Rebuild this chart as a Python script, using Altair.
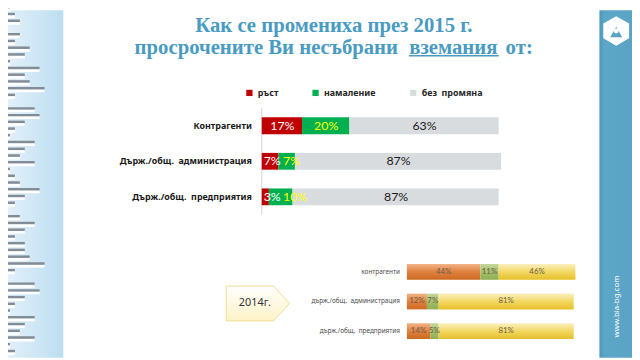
import altair as alt
import pandas as pd

NB = "\u00a0"

# ---------------- data ----------------
categories = ["Контрагенти", f"Държ./общ.{NB}{NB}администрация", f"Държ./общ.{NB}{NB}предприятия"]
series = ["ръст", "намаление", f"без{NB}{NB}промяна"]
growth = [17, 7, 3]
decline = [20, 7, 10]
nochange = [63, 87, 87]

categories_2014 = ["контрагенти", f"държ./общ.{NB}{NB}администрация", f"държ./общ.{NB}{NB}предприятия"]
growth_2014 = [44, 12, 14]
decline_2014 = [11, 7, 5]
nochange_2014 = [46, 81, 81]

title_line1 = "Как се промениха през 2015 г."
title_line2 = ["просрочените Ви несъбрани", "вземания", "от:"]
year_label = "2014г."
site = "www.bia-bg.com"

# decorative lines in the left panel (lengths, px)
deco_lengths = [10, 15, 20, 5, 20, 15, 30, 25, 10, 40, 25, 30, 45, 15, 5, 35, 40, 25, 15,
                10, 35, 25, 20, 35, 10, 15, 20, 40, 25, 15, 5, 20, 35, 25, 15, 25, 25, 30,
                45, 15, 5, 35, 40, 25, 15, 10, 35, 25, 20, 35, 10, 15]

RED, GREEN, GREY = "#c00000", "#00b050", "#d9dcdf"
TITLE_BLUE = "#4a9bc1"

PX_PER_PCT15 = 2.4  # 240 px for 100 %


def stack(cats, vals_by_series, names, px_per_pct=None, fs=12):
    rows = []
    for i, c in enumerate(cats):
        start = 0
        cursor = 2 / px_per_pct if px_per_pct else 0  # in percent units
        for s, vals in zip(names, vals_by_series):
            v = vals[i]
            label = f"{v}%"
            mid = start + v / 2
            row = dict(cat=c, series=s, value=v, start=start, end=start + v, mid=mid, label=label)
            if px_per_pct:
                w = (len(str(v)) * 0.58 + 0.8) * fs / px_per_pct
                left = max(mid - w / 2, cursor)
                row["lpos"] = left
                cursor = left + w + 3 / px_per_pct
            rows.append(row)
            start += v
    return pd.DataFrame(rows)


df15 = stack(categories, [growth, decline, nochange], series, PX_PER_PCT15)
df15["tcolor"] = df15["series"].map({series[0]: "white", series[1]: "#ffff00", series[2]: "#1a1a1a"})
df14 = stack(categories_2014, [growth_2014, decline_2014, nochange_2014], ["g", "d", "n"])

# ---------------- scales ----------------
x15 = alt.Scale(domain=[0, 100], range=[257, 497])
y15_band = alt.Scale(type="band", domain=categories, range=[99, 207], paddingInner=0, paddingOuter=0)
y15_pt = alt.Scale(type="point", domain=categories, range=[99, 207], padding=0.5)

x14 = alt.Scale(domain=[0, 100], range=[404, 573])
y14_band = alt.Scale(type="band", domain=categories_2014, range=[250, 340], paddingInner=0, paddingOuter=0)
y14_pt = alt.Scale(type="point", domain=categories_2014, range=[250, 340], padding=0.5)

# ---------------- decorations ----------------
one = pd.DataFrame({"k": [0]})

left_panel = alt.Chart(one).mark_rect(
    color=alt.LinearGradient(gradient="linear", x1=0, y1=0, x2=1, y2=0,
                             stops=[alt.GradientStop(color="#e2f0f9", offset=0),
                                    alt.GradientStop(color="#bcdef1", offset=1)])
).encode(x=alt.value(0), x2=alt.value(56), y=alt.value(0), y2=alt.value(352))

deco = pd.DataFrame({"row": list(range(len(deco_lengths))), "len": deco_lengths})
deco_x = alt.Scale(domain=[0, 64], range=[-8, 56])
deco_y = alt.Scale(domain=[0, len(deco_lengths)], range=[-3, 352])
deco_dark = alt.Chart(deco).mark_rule(color="#838b94", strokeWidth=2.5).encode(
    x=alt.X("z:Q", scale=deco_x, axis=None), x2="len:Q",
    y=alt.Y("row:Q", scale=deco_y, axis=None)
).transform_calculate(z="0")
deco_white = alt.Chart(deco).mark_rule(color="white", strokeWidth=2.5, yOffset=2.8).encode(
    x=alt.X("z:Q", scale=deco_x, axis=None), x2="len:Q",
    y=alt.Y("row:Q", scale=deco_y, axis=None)
).transform_calculate(z="0")

right_panel = alt.Chart(one).mark_rect(
    color=alt.LinearGradient(gradient="linear", x1=0, y1=0, x2=1, y2=0,
                             stops=[alt.GradientStop(color="#4f98b9", offset=0),
                                    alt.GradientStop(color="#5ca6c7", offset=0.15),
                                    alt.GradientStop(color="#5aa3c4", offset=1)])
).encode(x=alt.value(599), x2=alt.value(632), y=alt.value(0), y2=alt.value(352))

hexagon = "M0,-1 L0.87,-0.5 L0.87,0.5 L0,1 L-0.87,0.5 L-0.87,-0.5 Z"
logo = alt.Chart(one).mark_point(shape=hexagon, filled=True, color="white", size=900, opacity=1).encode(
    x=alt.value(616), y=alt.value(21))
logo_tri = alt.Chart(one).mark_point(shape="triangle-up", filled=True, color="#5aa3c4", size=150, opacity=1).encode(
    x=alt.value(616), y=alt.value(22))
logo_dot = alt.Chart(one).mark_point(shape="circle", filled=True, color="white", size=25, opacity=1).encode(
    x=alt.value(616), y=alt.value(21))
site_text = alt.Chart(one).mark_text(text=site, angle=270, color="white", fontSize=8,
                                     font="Noto Sans", align="center", baseline="middle").encode(
    x=alt.value(617), y=alt.value(300))

# ---------------- title ----------------
tfont = dict(font="Liberation Serif", fontSize=21, fontWeight="bold", color=TITLE_BLUE, baseline="middle")
t1 = alt.Chart(one).mark_text(text=title_line1, align="center", **tfont).encode(x=alt.value(330), y=alt.value(16))
t2a = alt.Chart(one).mark_text(text=title_line2[0], align="right", **tfont).encode(x=alt.value(395), y=alt.value(38))
t2b = alt.Chart(one).mark_text(text=title_line2[1], align="center", **tfont).encode(x=alt.value(451), y=alt.value(38))
t2c = alt.Chart(one).mark_text(text=title_line2[2], align="left", **tfont).encode(x=alt.value(504), y=alt.value(38))
underline = alt.Chart(one).mark_rule(color=TITLE_BLUE, strokeWidth=1.5).encode(
    x=alt.value(406), x2=alt.value(497), y=alt.value(46))

# ---------------- main 2015 chart ----------------
axis_line = alt.Chart(one).mark_rule(color="#d4d4d4", strokeWidth=1).encode(
    x=alt.X("z:Q", scale=x15, axis=None), y=alt.value(99), y2=alt.value(207)
).transform_calculate(z="0")
bars15 = alt.Chart(df15).mark_bar(size=17).encode(
    x=alt.X("start:Q", scale=x15, axis=None), x2="end:Q",
    y=alt.Y("cat:N", scale=y15_band, axis=None, sort=categories),
    color=alt.Color("series:N", scale=alt.Scale(domain=series, range=[RED, GREEN, GREY]),
                    legend=alt.Legend(orient="none", legendX=240, legendY=79, direction="horizontal",
                                      title=None, symbolType="square", symbolSize=40,
                                      symbolStrokeWidth=0, labelFontSize=9, labelFont="Noto Sans",
                                      labelFontWeight="bold", labelColor="#262626",
                                      columnPadding=33, labelOffset=4)),
)
vals15 = alt.Chart(df15).mark_text(font="Lato", fontSize=12.5, baseline="middle", align="left").encode(
    x=alt.X("lpos:Q", scale=x15, axis=None),
    y=alt.Y("cat:N", scale=y15_pt, axis=None, sort=categories),
    text="label:N",
    color=alt.Color("tcolor:N", scale=None),
)
cats15 = alt.Chart(pd.DataFrame({"cat": categories})).mark_text(
    font="Noto Sans", fontSize=9, fontWeight="bold", align="right", baseline="middle", color="#1a1a1a"
).encode(x=alt.value(247), y=alt.Y("cat:N", scale=y15_pt, axis=None, sort=categories), text="cat:N")

# ---------------- 2014 chart ----------------
grads = {
    "g": [("#f2b487", 0), ("#e0813f", 0.5), ("#cc6a22", 1)],
    "d": [("#c3d89d", 0), ("#a4c06a", 0.5), ("#8fae52", 1)],
    "n": [("#fbefbf", 0), ("#f2d863", 0.5), ("#e6bf2a", 1)],
}
bars14 = []
for key, stops in grads.items():
    bars14.append(
        alt.Chart(df14[df14["series"] == key]).mark_bar(
            size=16,
            color=alt.LinearGradient(gradient="linear", x1=0, y1=0, x2=0, y2=1,
                                     stops=[alt.GradientStop(color=c, offset=o) for c, o in stops])
        ).encode(
            x=alt.X("start:Q", scale=x14, axis=None), x2="end:Q",
            y=alt.Y("cat:N", scale=y14_band, axis=None, sort=categories_2014),
        )
    )
vals14 = alt.Chart(df14).mark_text(font="Lato", fontSize=8, baseline="middle", align="center",
                                   color="#6e5b46").encode(
    x=alt.X("mid:Q", scale=x14, axis=None),
    y=alt.Y("cat:N", scale=y14_pt, axis=None, sort=categories_2014),
    text="label:N",
)
cats14 = alt.Chart(pd.DataFrame({"cat": categories_2014})).mark_text(
    font="Noto Sans", fontSize=6.5, align="right", baseline="middle", color="#4d4d4d"
).encode(x=alt.value(397), y=alt.Y("cat:N", scale=y14_pt, axis=None, sort=categories_2014), text="cat:N")

pentagon = "M-1,-0.55 L0.5,-0.55 L1,0 L0.5,0.55 L-1,0.55 Z"
year_box = alt.Chart(one).mark_point(
    shape=pentagon, filled=True, size=4096, opacity=1, stroke="#f0dc92", strokeWidth=1,
    fill=alt.LinearGradient(gradient="linear", x1=0, y1=0, x2=0, y2=1,
                            stops=[alt.GradientStop(color="#ffffff", offset=0),
                                   alt.GradientStop(color="#fdf2c6", offset=1)])
).encode(x=alt.value(253), y=alt.value(297))
year_text = alt.Chart(one).mark_text(text=year_label, font="Noto Sans", fontSize=11, color="#333333",
                                     align="center", baseline="middle").encode(
    x=alt.value(250), y=alt.value(297))

chart = alt.layer(
    left_panel, deco_dark, deco_white, right_panel, logo, logo_tri, logo_dot, site_text,
    t1, t2a, t2b, t2c, underline,
    axis_line, bars15, vals15, cats15,
    *bars14, vals14, cats14, year_box, year_text,
).resolve_scale(x="independent", y="independent", color="independent").properties(
    width=632, height=352, padding=0, autosize="none", background="white"
).configure_view(stroke=None)

chart.save("out.html", embed_options={"renderer": "svg", "actions": False})
